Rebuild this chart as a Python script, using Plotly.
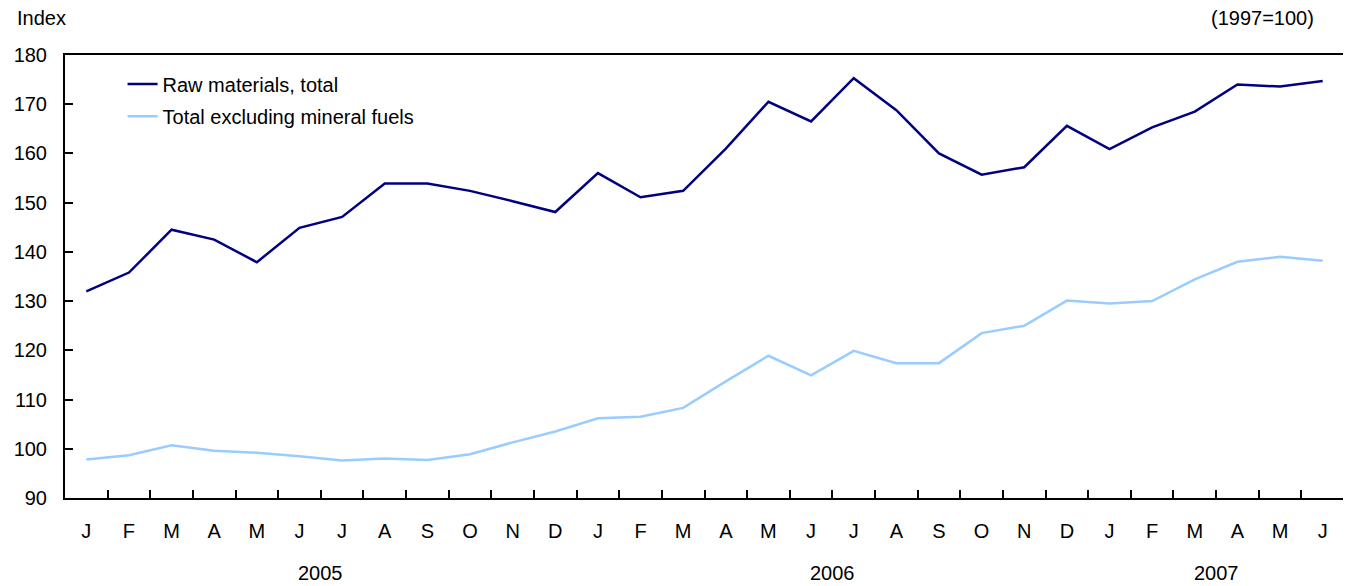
import plotly.graph_objects as go

months = ["J", "F", "M", "A", "M", "J", "J", "A", "S", "O", "N", "D",
          "J", "F", "M", "A", "M", "J", "J", "A", "S", "O", "N", "D",
          "J", "F", "M", "A", "M", "J"]
years = ["2005", "2006", "2007"]
year_centers = [5.5, 17.5, 26.5]

raw_total = [132.0, 135.8, 144.5, 142.5, 137.9, 144.9, 147.1, 153.9, 153.9, 152.4,
             150.3, 148.1, 156.0, 151.1, 152.4, 161.0, 170.5, 166.5, 175.3, 168.8,
             160.0, 155.7, 157.2, 165.6, 160.9, 165.3, 168.5, 174.0, 173.6, 174.7]
excl_fuels = [97.8, 98.7, 100.7, 99.6, 99.2, 98.5, 97.6, 98.0, 97.7, 98.9,
              101.3, 103.5, 106.2, 106.5, 108.3, 113.7, 118.9, 114.9, 119.9, 117.4,
              117.4, 123.5, 125.0, 130.1, 129.5, 130.0, 134.4, 138.0, 139.0, 138.2]

names = ["Raw materials, total", "Total excluding mineral fuels"]
colors = ["#000080", "#99CCFF"]

x = list(range(len(months)))

fig = go.Figure()
fig.add_trace(go.Scatter(x=x, y=raw_total, mode="lines", name=names[0], showlegend=True,
                         line=dict(color=colors[0], width=2.5), legend="legend"))
fig.add_trace(go.Scatter(x=x, y=excl_fuels, mode="lines", name=names[1], showlegend=True,
                         line=dict(color=colors[1], width=2.5), legend="legend2"))

font_family = "Liberation Sans, Arial, Helvetica, sans-serif"
fs = 20

# page body has an 8px margin; size the figure so it fits the 1351x586 window
fig.update_layout(
    width=1343, height=578,
    margin=dict(l=57, r=5, t=47, b=88),
    paper_bgcolor="white", plot_bgcolor="white",
    showlegend=True,
    font=dict(family=font_family, size=fs, color="black"),
    legend=dict(x=0.045, y=0.9345, xanchor="left", yanchor="middle", visible=True,
                bgcolor="rgba(0,0,0,0)", font=dict(size=fs)),
    legend2=dict(x=0.045, y=0.862, xanchor="left", yanchor="middle", visible=True,
                 bgcolor="rgba(0,0,0,0)", font=dict(size=fs)),
    xaxis=dict(
        range=[-0.5, len(months) - 0.5],
        tickmode="array", tickvals=x, ticktext=months,
        ticks="", showgrid=False, zeroline=False,
        showline=True, linecolor="black", linewidth=2, mirror=True,
        ticklabelstandoff=14,
        minor=dict(tickmode="array", tickvals=[i + 0.5 for i in range(len(months) - 1)],
                   ticks="inside", ticklen=8, tickwidth=2, tickcolor="black", showgrid=False),
        fixedrange=True,
    ),
    yaxis=dict(
        range=[90, 180], dtick=10, tick0=90,
        ticks="inside", ticklen=8, tickwidth=2, tickcolor="black",
        showgrid=False, zeroline=False,
        showline=True, linecolor="black", linewidth=2, mirror=True,
        ticklabelstandoff=12,
        fixedrange=True,
    ),
    annotations=[
        dict(text="Index", xref="paper", yref="paper", x=-0.039, y=1.0835,
             xanchor="left", yanchor="middle", showarrow=False, font=dict(size=fs)),
        dict(text="(1997=100)", xref="paper", yref="paper", x=0.978, y=1.0835,
             xanchor="right", yanchor="middle", showarrow=False, font=dict(size=fs)),
    ] + [
        dict(text=yr, xref="x", yref="paper", x=c, y=-0.169, xanchor="center",
             yanchor="middle", showarrow=False, font=dict(size=fs))
        for yr, c in zip(years, year_centers)
    ],
)

fig.write_html("out.html")
